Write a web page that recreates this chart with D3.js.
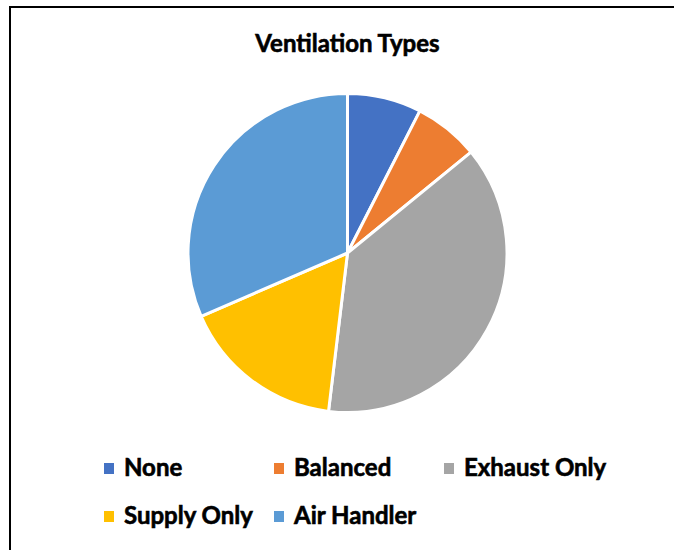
<!DOCTYPE html>
<html>
<head>
<meta charset="utf-8">
<script src="https://cdn.jsdelivr.net/npm/d3@7"></script>
<style>
  html, body { margin: 0; padding: 0; background: #fff; }
  text { font-family: Lato, "Open Sans", sans-serif; font-weight: 700; fill: #000; stroke: #000; stroke-width: 0.6px; }
</style>
</head>
<body>
<div id="chart"></div>
<script>
// data (share of homes, %)
var categories = ['None', 'Balanced', 'Exhaust Only', 'Supply Only', 'Air Handler'];
var values = [7.5, 6.6, 37.8, 16.6, 31.5];
var colors = ['#4472C4', '#ED7D31', '#A5A5A5', '#FFC000', '#5B9BD5'];
var title = 'Ventilation Types';

var WIDTH = 674, HEIGHT = 550;
var CX = 347.5, CY = 253, RADIUS = 159.5;

var svg = d3.select('#chart').append('svg')
    .attr('width', WIDTH)
    .attr('height', HEIGHT);

svg.append('rect')
    .attr('width', WIDTH)
    .attr('height', HEIGHT)
    .attr('fill', '#fff');

// chart frame (only left and top edges show)
svg.append('path')
    .attr('d', 'M10,' + (HEIGHT + 5) + ' L10,7 L' + (WIDTH + 5) + ',7')
    .attr('fill', 'none')
    .attr('stroke', '#000')
    .attr('stroke-width', 2);

svg.append('text')
    .attr('x', CX)
    .attr('y', 52)
    .attr('text-anchor', 'middle')
    .attr('font-size', 24)
    .text(title);

var pie = d3.pie().sort(null);
var arc = d3.arc().innerRadius(0).outerRadius(RADIUS);
var color = d3.scaleOrdinal().domain(categories).range(colors);

svg.append('g')
    .attr('transform', 'translate(' + CX + ',' + CY + ')')
    .selectAll('path')
    .data(pie(values))
    .enter().append('path')
    .attr('d', arc)
    .attr('fill', function(d, i) { return color(categories[i]); })
    .attr('stroke', '#fff')
    .attr('stroke-width', 3)
    .attr('stroke-linejoin', 'round');

// legend: 3 per row
var colX = d3.scalePoint().domain([0, 1, 2]).range([104, 444]);
var rowY = d3.scalePoint().domain([0, 1]).range([476, 524]);

var item = svg.append('g').selectAll('g')
    .data(categories)
    .enter().append('g')
    .attr('transform', function(d, i) {
        return 'translate(' + colX(i % 3) + ',' + rowY(Math.floor(i / 3)) + ')';
    });

item.append('rect')
    .attr('x', 0)
    .attr('y', -13)
    .attr('width', 10)
    .attr('height', 11)
    .attr('fill', function(d) { return color(d); });

item.append('text')
    .attr('x', 20)
    .attr('y', 0)
    .attr('font-size', 24)
    .text(function(d) { return d; });
</script>
</body>
</html>
